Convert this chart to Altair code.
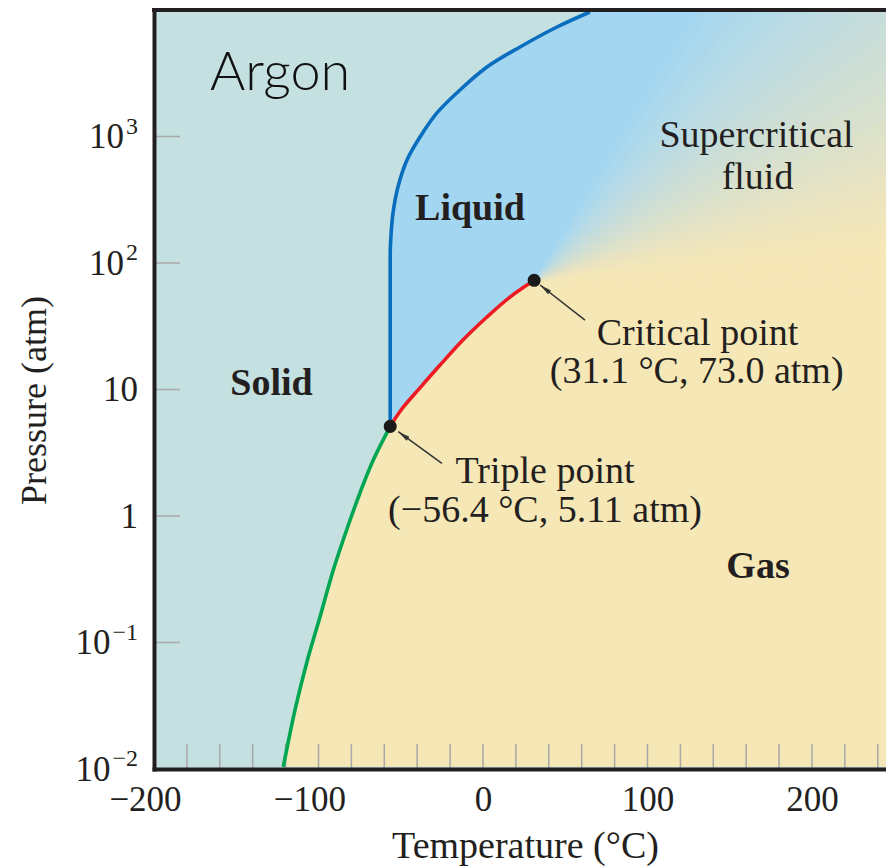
import math
import numpy as np
import pandas as pd
import altair as alt

# ---------------- data ----------------
x_tick_values = [-200, -100, 0, 100, 200]
x_tick_labels = ["−200", "−100", "0", "100", "200"]
x_minor_ticks = [-180, -160, -140, -120, -100, -80, -60, -40, -20, 0, 20,
                 40, 60, 80, 100, 120, 140, 160, 180, 200, 220, 240]
y_tick_values = [0.01, 0.1, 1, 10, 100, 1000]
y_tick_base = ["10", "10", "1", "10", "10", "10"]
y_tick_sup = ["−2", "−1", "", "", "2", "3"]
y_minor_ticks = [0.1, 1, 10, 100, 1000]

triple_point = (-56.4, 5.11)
critical_point = (31.1, 73.0)

# solid-liquid boundary (blue)
melting_T = [-56.4, -56.4, -56.4, -56.3, -54.7, -51.7, -46.2, -38.3, -28.0, -14.0, 2.4, 22.5, 45.0, 65.0]
melting_P = [5.11, 60, 100, 134, 248, 399, 652, 990, 1535, 2330, 3540, 5100, 7340, 9640]
# liquid-gas boundary (red)
vapor_T = [-56.4, -49.8, -38.3, -26.1, -12.2, 2.4, 16.4, 31.1]
vapor_P = [5.11, 6.89, 10.3, 15.6, 24.6, 37.4, 53.8, 73.0]
# solid-gas boundary (green)
sublimation_T = [-121.4, -114.3, -107.2, -99.1, -91.0, -82.9, -74.8, -66.7, -56.4]
sublimation_P = [0.0104, 0.0292, 0.0689, 0.159, 0.374, 0.775, 1.52, 2.77, 5.11]

bold_labels = ["Liquid", "Solid", "Gas"]
bold_T = [-7.9, -128.6, 167.2]
bold_P = [219, 9.06, 0.3236]

plain_labels = ["Supercritical", "fluid", "Critical point", "(31.1 °C, 73.0 atm)",
                "Triple point", "(−56.4 °C, 5.11 atm)"]
plain_T = [166.3, 166.9, 130.4, 129.9, 37.7, 37.7]
plain_P = [830, 383, 22.5, 11.2, 1.814, 0.902]

note_text = ["Argon"]
note_T = [-166.0]
note_P = [2333]

# arrows: tail (T, P) -> tip (T2, P2)
arrow_T = [-25.0, 62.0]
arrow_P = [2.61, 35.4]
arrow_T2 = [-51.5, 34.7]
arrow_P2 = [4.64, 67.0]

# ---------------- styling ----------------
W, H = 732, 759
T_MIN, T_MAX = -200, 245
P_MIN, P_MAX = 0.01, 10000
SERIF = "Liberation Serif"
TEXT = "#231f20"
FRAME = "#231f20"
SOLID = "#c5e0e0"
LIQUID = "#a3d6f1"
GAS = "#f6e7b7"
BLUE = "#0a6ebf"
RED = "#ed1c24"
GREEN = "#00a651"
TICK = "#a8a8a8"
DOT = "#1a1a1a"
LABEL_SIZE = 35
SUP_SIZE = 24
LABEL_GAP = 16
CURVE = "catmull-rom"

# supercritical colour fan around the critical point (angle in degrees -> colour)
fan_angles = [0, 5, 12, 22, 32, 42, 52, 60, 90]
fan_colors = ["#f6e7b7", "#f6e7b7", "#efe5bc", "#dfe1c8", "#cfdfd4",
              "#c0dce0", "#b0d9ea", "#a3d6f1", "#a3d6f1"]

px_T = W / (T_MAX - T_MIN)
px_dec = H / (math.log10(P_MAX) - math.log10(P_MIN))


def hex_rgb(h):
    return [int(h[i:i + 2], 16) for i in (1, 3, 5)]


def fan_color(a):
    rgb = [np.interp(a, fan_angles, [hex_rgb(c)[k] for c in fan_colors]) for k in range(3)]
    return "#%02x%02x%02x" % tuple(int(round(v)) for v in rgb)


cT, cP = critical_point
R = 600.0
T_far = cT + R / px_T
wedge_rows, wedge_ids, wedge_cols = [], [], []
step = 2
for i, a0 in enumerate(range(-1, 73, step)):
    lo, hi = a0 - 0.4, a0 + step + 0.4
    p_lo = cP * 10 ** (R * math.tan(math.radians(lo)) / px_dec)
    p_hi = cP * 10 ** (R * math.tan(math.radians(hi)) / px_dec)
    wid = f"w{i:02d}"
    wedge_ids.append(wid)
    wedge_cols.append(fan_color(a0 + step / 2))
    wedge_rows.append({"w": wid, "T": cT, "P": cP, "P2": cP})
    wedge_rows.append({"w": wid, "T": T_far, "P": p_lo, "P2": p_hi})
wedges = pd.DataFrame(wedge_rows)

xs = alt.Scale(domain=[T_MIN, T_MAX], nice=False, zero=False)
ys = alt.Scale(type="log", domain=[P_MIN, P_MAX], nice=False)


def label_expr(values, labels):
    expr = "datum.label"
    for v, l in zip(values, labels):
        tol = abs(v) * 1e-6 + 1e-12
        expr = f"abs(datum.value - ({v})) < {tol} ? '{l}' : " + expr
    return expr


x_axis = alt.Axis(
    values=x_tick_values, labelExpr=label_expr(x_tick_values, x_tick_labels),
    title="Temperature (°C)", tickSize=0, grid=False,
    domainColor=FRAME, domainWidth=4, domainCap="square",
    labelFont=SERIF, labelFontSize=LABEL_SIZE, labelColor=TEXT, labelPadding=13,
    labelFlush=False, labelOverlap=False,
    labelOffset={"condition": {"test": "datum.value < 0", "value": -9}, "value": 0},
    titleFont=SERIF, titleFontSize=38, titleFontWeight="normal", titleColor=TEXT,
    titleBaseline="alphabetic", titleAlign="center", titleX=371, titleY=88, zindex=1,
)
y_axis = alt.Axis(
    values=y_tick_values, labels=False,
    title="Pressure (atm)", tickSize=0, grid=False,
    domainColor=FRAME, domainWidth=4, domainCap="square",
    titleFont=SERIF, titleFontSize=36, titleFontWeight="normal", titleColor=TEXT,
    titleAngle=270, titleBaseline="alphabetic", titleAlign="center",
    titleX=-109, titleY=390, zindex=1,
)

X = alt.X("T:Q", scale=xs, axis=x_axis)
Y = alt.Y("P:Q", scale=ys, axis=y_axis)

melt_df = pd.DataFrame({"T": melting_T, "P": melting_P, "i": range(len(melting_T))})
vap_df = pd.DataFrame({"T": vapor_T, "P": vapor_P, "i": range(len(vapor_T))})
sub_df = pd.DataFrame({"T": sublimation_T, "P": sublimation_P, "i": range(len(sublimation_T))})
gas_df = pd.DataFrame({"T": sublimation_T + vapor_T[1:], "P": sublimation_P + vapor_P[1:]})

liquid_fill = alt.Chart(melt_df).mark_area(
    orient="horizontal", color=LIQUID, clip=True, interpolate=CURVE).encode(
    y=Y, x=X, x2=alt.datum(T_MAX))
gas_fill = alt.Chart(gas_df).mark_area(
    orient="horizontal", color=GAS, clip=True, interpolate=CURVE).encode(
    y=Y, x=X, x2=alt.datum(T_MAX))
fan = alt.Chart(wedges).mark_area(orient="vertical", clip=True, opacity=1).encode(
    x=X, y=Y, y2="P2:Q",
    color=alt.Color("w:N", scale=alt.Scale(domain=wedge_ids, range=wedge_cols), legend=None),
)

xticks = alt.Chart(pd.DataFrame({"T": x_minor_ticks})).mark_rule(color=TICK, strokeWidth=1.5).encode(
    x=X, y=alt.value(H - 25), y2=alt.value(H))
yticks = alt.Chart(pd.DataFrame({"P": y_minor_ticks})).mark_rule(color=TICK, strokeWidth=1.5).encode(
    y=Y, x=alt.value(0), x2=alt.value(26))

# y tick labels: base number plus a raised superscript exponent
char_w = {"−": 0.564, "-": 0.333}
ylab = pd.DataFrame({"P": y_tick_values, "base": y_tick_base, "sup": y_tick_sup})
ylab["supw"] = [sum(char_w.get(c, 0.5) for c in s) * SUP_SIZE + (2 if s else 0) for s in y_tick_sup]
ylabel_layers = []
for supw in sorted(set(ylab["supw"])):
    sub = ylab[ylab["supw"] == supw]
    ylabel_layers.append(
        alt.Chart(sub).mark_text(font=SERIF, fontSize=LABEL_SIZE, color=TEXT, align="right",
                                 baseline="alphabetic", dy=11.5).encode(
            y=Y, x=alt.value(-LABEL_GAP - supw), text="base:N"))
sup_df = ylab[ylab["sup"] != ""]
ylabel_layers.append(
    alt.Chart(sup_df).mark_text(font=SERIF, fontSize=SUP_SIZE, color=TEXT, align="right",
                                baseline="alphabetic", dy=-3).encode(
        y=Y, x=alt.value(-LABEL_GAP), text="sup:N"))


def curve(df, color):
    return alt.Chart(df).mark_line(color=color, strokeWidth=3.6, clip=True, interpolate=CURVE).encode(
        x=X, y=Y, order="i:Q")


blue_line = curve(melt_df, BLUE)
red_line = curve(vap_df, RED)
green_line = curve(sub_df, GREEN)

top_frame = alt.Chart(pd.DataFrame({"P": [P_MAX]})).mark_rule(
    color=FRAME, strokeWidth=4, strokeCap="square").encode(y=Y, x=alt.value(0), x2=alt.value(W))

arrow_df = pd.DataFrame({"T": arrow_T, "P": arrow_P, "T2": arrow_T2, "P2": arrow_P2})
arrow_df["ang"] = [
    (math.degrees(math.atan2((t2 - t1) * px_T,
                             (math.log10(p2) - math.log10(p1)) * px_dec)) + 360) % 360
    for t1, p1, t2, p2 in zip(arrow_T, arrow_P, arrow_T2, arrow_P2)
]
arrow_lines = alt.Chart(arrow_df).mark_rule(color="#333333", strokeWidth=1.5).encode(
    x=X, y=Y, x2="T2:Q", y2="P2:Q")
head_df = pd.DataFrame({"T": arrow_T2, "P": arrow_P2, "ang": arrow_df["ang"]})
arrow_heads = alt.Chart(head_df).mark_point(
    shape="M0,0L0.4,2L-0.4,2Z", filled=True, size=144, color="#333333", opacity=1, strokeWidth=0
).encode(x=X, y=Y, angle=alt.Angle("ang:Q", scale=None))

dots = alt.Chart(pd.DataFrame({"T": [triple_point[0], critical_point[0]],
                               "P": [triple_point[1], critical_point[1]]})).mark_circle(
    size=170, color=DOT, opacity=1).encode(x=X, y=Y)

bold_text = alt.Chart(pd.DataFrame({"T": bold_T, "P": bold_P, "label": bold_labels})).mark_text(
    font=SERIF, fontSize=38, fontWeight="bold", color=TEXT, align="center", baseline="alphabetic"
).encode(x=X, y=Y, text="label:N")
plain_text = alt.Chart(pd.DataFrame({"T": plain_T, "P": plain_P, "label": plain_labels})).mark_text(
    font=SERIF, fontSize=38, color=TEXT, align="center", baseline="alphabetic"
).encode(x=X, y=Y, text="label:N")
note = alt.Chart(pd.DataFrame({"T": note_T, "P": note_P, "label": note_text})).mark_text(
    font="Lato", fontSize=54, fontWeight=300, color="#111111", align="left", baseline="alphabetic"
).encode(x=X, y=Y, text="label:N")

chart = alt.layer(
    liquid_fill, gas_fill, fan, xticks, yticks,
    green_line, red_line, blue_line, top_frame,
    arrow_lines, arrow_heads, dots, bold_text, plain_text, note, *ylabel_layers,
).properties(
    width=W, height=H,
    padding={"left": 154, "top": 10, "right": 0, "bottom": 97},
    autosize=alt.AutoSizeParams(type="none"),
).configure_view(fill=SOLID, stroke=None)

chart.save("out.html", embed_options={"renderer": "svg", "actions": False})
